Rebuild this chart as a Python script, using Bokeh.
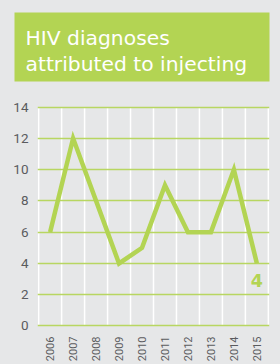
import numpy as np
from bokeh.plotting import figure
from bokeh.layouts import column
from bokeh.models import Range1d, FixedTicker
from bokeh.core.properties import value
from bokeh.embed import file_html
from bokeh.resources import INLINE

years = ["2006", "2007", "2008", "2009", "2010", "2011", "2012", "2013", "2014", "2015"]
diagnoses = [6, 12, 8, 4, 5, 9, 6, 6, 10, 4]
y_ticks = [0, 2, 4, 6, 8, 10, 12, 14]
title_lines = ["HIV diagnoses", "attributed to injecting"]
last_label = "4"

BG = "#e6e7e8"
GREEN = "#b3d453"
GRID_GREEN = "#b8d661"
TXT = "#5a5b5e"
TICK_FONT = "Roboto"

# ---- title panel ----
TH = 95
t = figure(width=280, height=TH, output_backend="svg", toolbar_location=None,
           x_range=Range1d(0, 280), y_range=Range1d(TH, 0),
           min_border=0, x_axis_type=None, y_axis_type=None)
t.frame_align = False
t.background_fill_color = BG
t.border_fill_color = BG
t.outline_line_color = None
t.grid.visible = False
t.quad(left=[14], right=[269], top=[12], bottom=[81], fill_color=GREEN, line_color=None)
t.text(x=[25, 25], y=[37.5, 63.5], text=title_lines, text_color="white",
       text_font=value("DejaVu Sans"), text_font_size="20.3px", text_baseline="alphabetic")

# ---- chart ----
xs = np.arange(len(years)) + 0.5
p = figure(width=280, height=364 - TH, output_backend="svg", toolbar_location=None,
           x_range=Range1d(-0.05, len(years) + 0.05), y_range=Range1d(-0.1, 14.1),
           min_border_left=37, min_border_right=11, min_border_top=105 - TH, min_border_bottom=37)
p.frame_align = False
p.background_fill_color = BG
p.border_fill_color = BG
p.outline_line_color = None

p.xaxis.ticker = FixedTicker(ticks=list(xs))
p.xaxis.major_label_overrides = {float(x): y for x, y in zip(xs, years)}
p.xaxis.major_label_orientation = np.pi / 2
p.yaxis.ticker = FixedTicker(ticks=y_ticks)
for ax in (p.xaxis, p.yaxis):
    ax.axis_line_color = None
    ax.major_tick_line_color = None
    ax.minor_tick_line_color = None
    ax.major_tick_out = 0
    ax.major_tick_in = 0
    ax.minor_tick_out = 0
    ax.minor_tick_in = 0
    ax.major_label_text_color = TXT
    ax.major_label_text_font = TICK_FONT
p.yaxis.major_label_standoff = 9
p.xaxis.major_label_standoff = 9
p.yaxis.major_label_text_font_size = "13.5px"
p.xaxis.major_label_text_font_size = "11px"

p.xgrid.visible = False
p.ygrid.grid_line_color = GRID_GREEN
p.ygrid.grid_line_width = 1.5

bounds = np.arange(len(years) + 1)
p.segment(x0=bounds, y0=0, x1=bounds, y1=max(y_ticks), line_color="white", line_width=1.5,
          level="underlay")

p.line(xs, diagnoses, line_color=GREEN, line_width=4.5, line_join="miter")

p.text(x=[xs[-1]], y=[diagnoses[-1]], text=[last_label], text_color=GREEN,
       text_font=value("DejaVu Sans"), text_font_style="bold", text_font_size="17.5px",
       text_align="center", text_baseline="top", y_offset=10.5)

layout = column(t, p, spacing=0, styles={"background-color": BG})
open("out.html", "w").write(file_html(layout, INLINE))
